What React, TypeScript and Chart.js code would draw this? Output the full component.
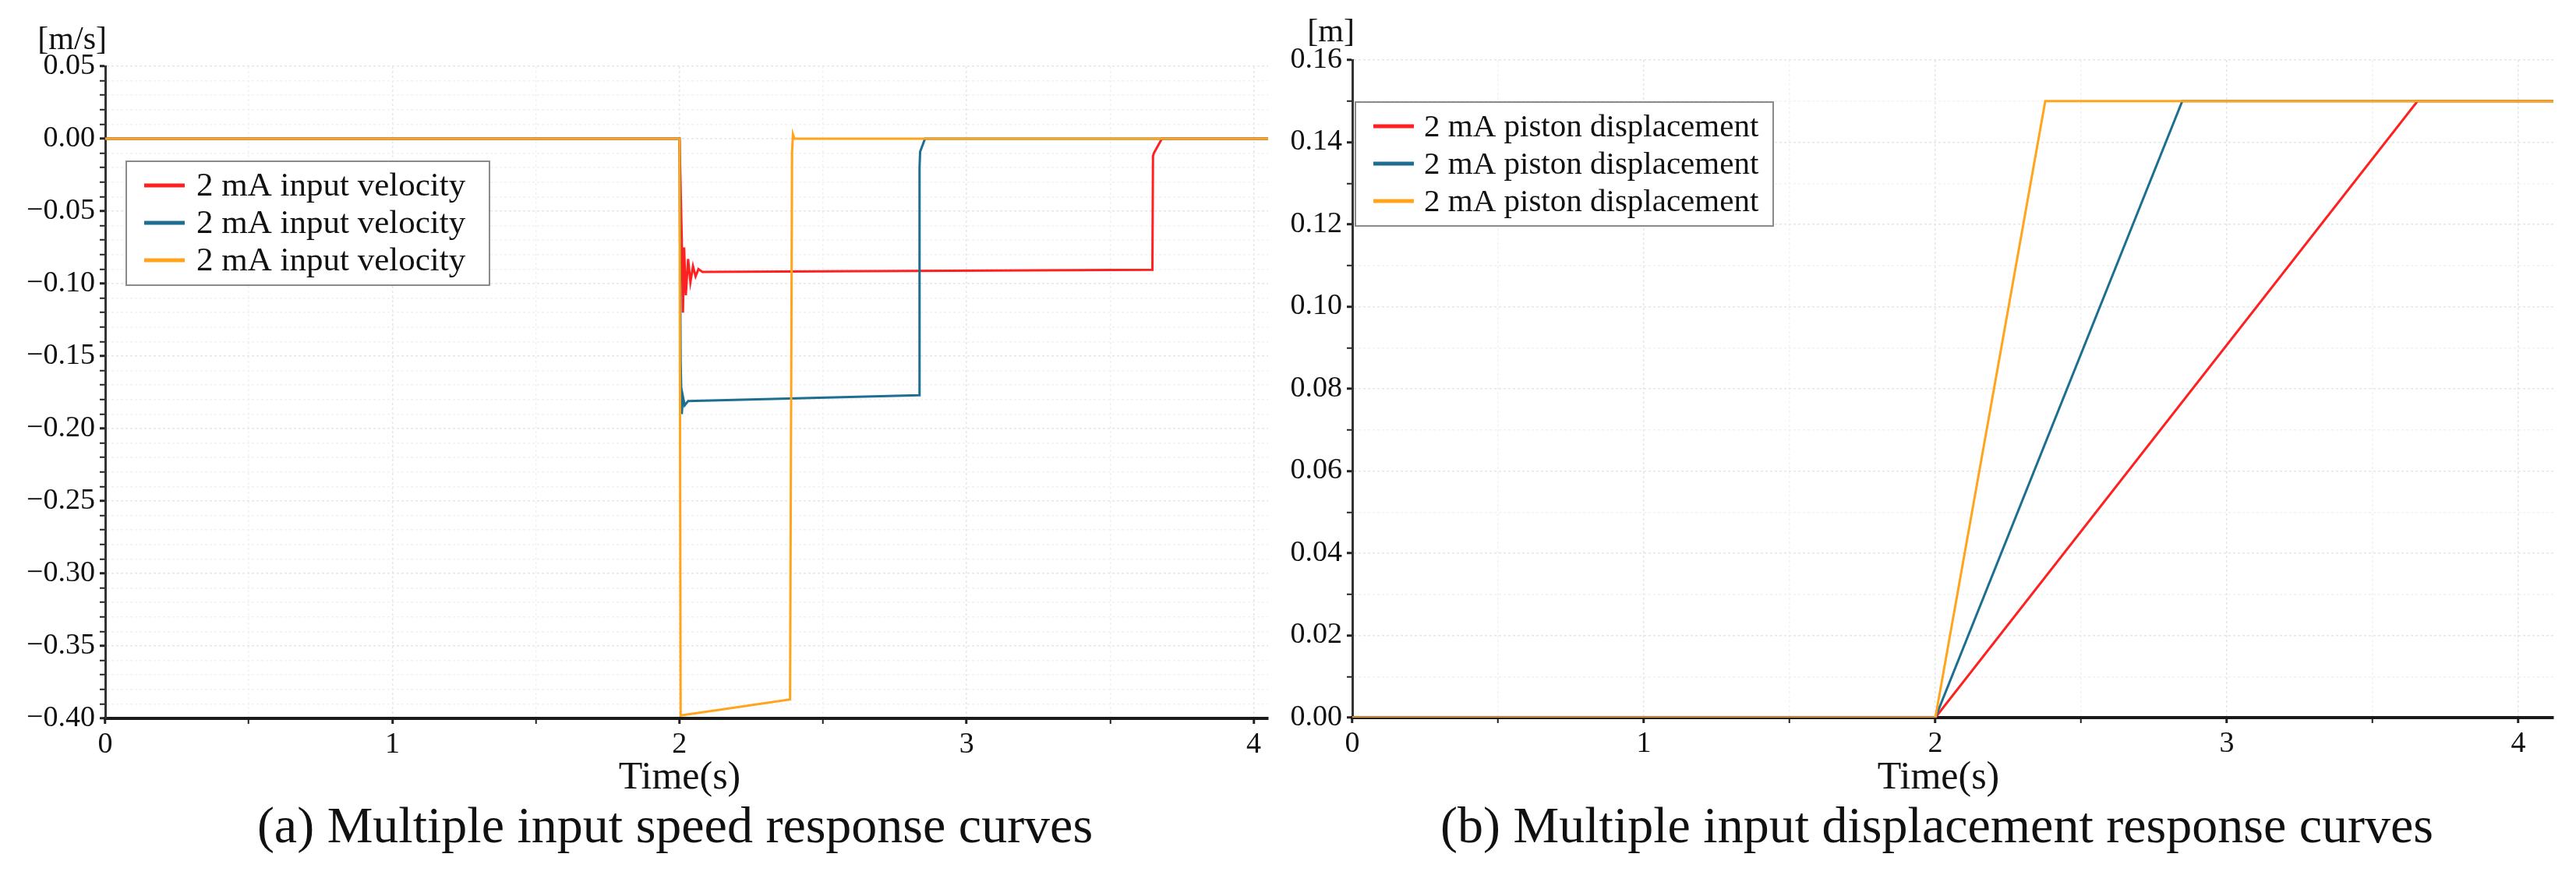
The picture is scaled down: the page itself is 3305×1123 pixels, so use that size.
import { useEffect, useRef } from 'react';
import { Chart, registerables } from 'chart.js';

Chart.register(...registerables);

const FONT = "'Liberation Serif', 'Times New Roman', serif";
const INK = '#111111';

// (a) input velocity, m/s
const velRedTime = [0, 2.0, 2.008, 2.012, 2.016, 2.022, 2.03, 2.038, 2.047, 2.056, 2.066, 2.08, 3.647, 3.649, 3.652, 3.68, 4.05];
const velRedValue = [0, 0, -0.07, -0.12, -0.075, -0.108, -0.083, -0.099, -0.088, -0.095, -0.09, -0.092, -0.0905, -0.012, -0.01, 0, 0];
const velBlueTime = [0, 2.0, 2.004, 2.008, 2.012, 2.018, 2.03, 2.834, 2.836, 2.838, 2.855, 4.05];
const velBlueValue = [0, 0, -0.155, -0.19, -0.178, -0.184, -0.181, -0.177, -0.02, -0.009, 0, 0];
const velOrangeTime = [0, 2.0, 2.004, 2.385, 2.392, 2.395, 2.4, 4.05];
const velOrangeValue = [0, 0, -0.398, -0.387, -0.01, 0.003, 0, 0];
const velLabels = ['2 mA input velocity', '2 mA input velocity', '2 mA input velocity'];

// (b) piston displacement, m
const dispRedTime = [0, 2.0, 3.654, 4.12];
const dispRedValue = [0, 0, 0.15, 0.15];
const dispBlueTime = [0, 2.0, 2.847, 4.12];
const dispBlueValue = [0, 0, 0.15, 0.15];
const dispOrangeTime = [0, 2.0, 2.377, 4.12];
const dispOrangeValue = [0, 0, 0.15, 0.15];
const dispLabels = ['2 mA piston displacement', '2 mA piston displacement', '2 mA piston displacement'];

const seriesColors = ['#ff2020', '#1d6f91', '#ffa41b'];

// axes: [min, max, major step, minor step]
const timeAxisA = [0, 4.05, 1, 0.5];
const timeAxisB = [0, 4.12, 1, 0.5];
const velAxis = [-0.4, 0.05, 0.05, 0.01];
const dispAxis = [0, 0.16, 0.02, 0.01];

const pts = (t: number[], v: number[]) => t.map((x, i) => ({ x, y: v[i] }));

const isMajor = (value: number, step: number) =>
  Math.abs(value / step - Math.round(value / step)) < 1e-6;

const boxLegend = {
  id: 'boxLegend',
  afterDatasetsDraw(chart: any, _args: any, opts: any) {
    const { ctx, chartArea } = chart;
    const x = chartArea.left + opts.offsetX;
    const y = chartArea.top + opts.offsetY;
    ctx.save();
    ctx.fillStyle = '#ffffff';
    ctx.fillRect(x, y, opts.width, opts.height);
    ctx.strokeStyle = '#8a8a8a';
    ctx.lineWidth = 2;
    ctx.strokeRect(x, y, opts.width, opts.height);
    ctx.font = `${opts.fontSize}px ${FONT}`;
    ctx.textBaseline = 'middle';
    chart.data.datasets.forEach((ds: any, i: number) => {
      const cy = y + opts.firstRow + i * opts.rowGap;
      ctx.strokeStyle = ds.borderColor;
      ctx.lineWidth = 5;
      ctx.beginPath();
      ctx.moveTo(x + 23, cy);
      ctx.lineTo(x + 75, cy);
      ctx.stroke();
      ctx.fillStyle = INK;
      ctx.fillText(ds.label, x + opts.textX, cy + 2);
    });
    ctx.restore();
  },
};

function axisOptions(range: number[], yAxis: boolean, fitSize: number, digits: number) {
  const [min, max, major, minor] = range;
  return {
    type: 'linear',
    min,
    max,
    afterFit: (scale: any) => {
      if (yAxis) scale.width = fitSize;
      else scale.height = fitSize;
    },
    grid: {
      color: (c: any) => (c.tick && isMajor(c.tick.value, major) ? '#e6e6e6' : '#f1f1f1'),
      lineWidth: 1.5,
      tickLength: 7,
      tickColor: '#222',
      tickWidth: (c: any) => (c.tick && isMajor(c.tick.value, major) ? 3 : 2),
    },
    border: { display: true, color: yAxis ? '#333' : '#1a1a1a', width: yAxis ? 3 : 4, dash: [3, 3] },
    ticks: {
      stepSize: minor,
      autoSkip: false,
      includeBounds: false,
      maxRotation: 0,
      minRotation: 0,
      padding: yAxis ? 6 : 4,
      color: INK,
      font: { family: FONT, size: 38 },
      callback: (value: number) => {
        if (!isMajor(value, major)) return '';
        const s = Math.abs(value).toFixed(digits);
        return value < -1e-9 ? '\u2212' + s : s;
      },
    },
  };
}

function ResponseChart(props: {
  series: { time: number[]; value: number[] }[];
  labels: string[];
  xRange: number[];
  yRange: number[];
  yWidth: number;
  padRight: number;
  padTop: number;
  padBottom: number;
  legend: any;
}) {
  const chartRef = useRef<HTMLCanvasElement>(null);

  useEffect(() => {
    if (!chartRef.current) return;
    const ctx = chartRef.current.getContext('2d');
    if (!ctx) return;

    const chart = new Chart(ctx, {
      type: 'line',
      data: {
        datasets: props.series.map((s, i) => ({
          label: props.labels[i],
          data: pts(s.time, s.value),
          borderColor: seriesColors[i],
          backgroundColor: seriesColors[i],
          borderWidth: 3,
          pointRadius: 0,
          tension: 0,
          order: props.series.length - i,
        })),
      },
      options: {
        animation: false,
        responsive: true,
        maintainAspectRatio: false,
        layout: { padding: { left: 0, right: props.padRight, top: props.padTop, bottom: props.padBottom } },
        scales: {
          x: axisOptions(props.xRange, false, 60, 0) as any,
          y: axisOptions(props.yRange, true, props.yWidth, 2) as any,
        },
        plugins: {
          legend: { display: false },
          tooltip: { enabled: false },
          boxLegend: props.legend,
        } as any,
      },
      plugins: [boxLegend],
    });

    return () => chart.destroy();
  }, []);

  return <canvas ref={chartRef} />;
}

const textStyle = (size: number): React.CSSProperties => ({
  position: 'absolute',
  fontFamily: FONT,
  fontSize: size,
  lineHeight: 1,
  color: INK,
  whiteSpace: 'nowrap',
});

export default function App() {
  return (
    <div style={{ position: 'absolute', left: 0, top: 0, width: 3305, height: 1123, background: '#fff', overflow: 'hidden' }}>
      <div style={{ position: 'absolute', left: 0, top: 0, width: 1650, height: 1123 }}>
        <ResponseChart
          series={[
            { time: velRedTime, value: velRedValue },
            { time: velBlueTime, value: velBlueValue },
            { time: velOrangeTime, value: velOrangeValue },
          ]}
          labels={velLabels}
          xRange={timeAxisA}
          yRange={velAxis}
          yWidth={135}
          padRight={23}
          padTop={85}
          padBottom={141}
          legend={{ offsetX: 27, offsetY: 122, width: 466, height: 159, firstRow: 31, rowGap: 48, textX: 90, fontSize: 43 }}
        />
      </div>
      <div style={{ position: 'absolute', left: 1650, top: 0, width: 1655, height: 1123 }}>
        <ResponseChart
          series={[
            { time: dispRedTime, value: dispRedValue },
            { time: dispBlueTime, value: dispBlueValue },
            { time: dispOrangeTime, value: dispOrangeValue },
          ]}
          labels={dispLabels}
          xRange={timeAxisB}
          yRange={dispAxis}
          yWidth={85}
          padRight={29}
          padTop={77}
          padBottom={142}
          legend={{ offsetX: 4, offsetY: 54, width: 536, height: 159, firstRow: 31, rowGap: 48, textX: 88, fontSize: 41 }}
        />
      </div>

      <div style={{ ...textStyle(42), right: 3305 - 137, top: 28 }}>[m/s]</div>
      <div style={{ ...textStyle(42), right: 3305 - 1738, top: 18 }}>[m]</div>

      <div style={{ ...textStyle(50), left: 872, top: 970, transform: 'translateX(-50%)' }}>Time(s)</div>
      <div style={{ ...textStyle(50), left: 2487, top: 970, transform: 'translateX(-50%)' }}>Time(s)</div>

      <div style={{ ...textStyle(66), left: 866, top: 1026, transform: 'translateX(-50%)' }}>
        (a) Multiple input speed response curves
      </div>
      <div style={{ ...textStyle(66), left: 2485, top: 1026, transform: 'translateX(-50%)' }}>
        (b) Multiple input displacement response curves
      </div>
    </div>
  );
}
